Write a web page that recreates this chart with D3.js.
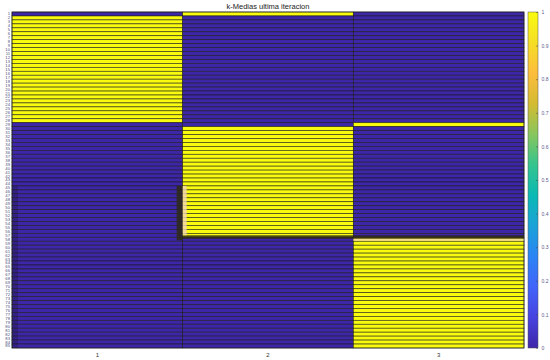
<!DOCTYPE html>
<html>
<head>
<meta charset="utf-8">
<script src="https://cdn.jsdelivr.net/npm/d3@7"></script>
<style>
  body { margin: 0; background: #fff; }
  svg { display: block; }
  text { font-family: "Liberation Sans", Arial, sans-serif; }
</style>
</head>
<body>
<div id="chart"></div>
<script>
// ---- data ----
const title = "k-Medias ultima iteracion";
const columns = ["1", "2", "3"];
const rowLabels = ["1","2","3","4","5","6","7","8","9","10","11","12","13","14","15","16","17","18","19","20",
  "21","22","23","24","25","26","27","28","29","30","31","32","33","34","35","36","37","38","39","40",
  "41","42","43","44","45","46","47","48","49","50","51","52","53","54","55","56","57","58","59","60",
  "61","62","63","64","65","66","67","68","69","70","71","72","73","74","75","76","77","78","79","80",
  "81","82","83","84","85"];
// cluster assigned to each row (1-based column index)
const clusterOfRow = [
  2,
  1,1,1,1,1,1,1,1,1,1,1,1,1,1,1,1,1,1,1,1,1,1,1,1,1,1,1,
  3,
  2,2,2,2,2,2,2,2,2,2,2,2,2,2,2,2,2,2,2,2,2,2,2,2,2,2,2,2,
  3,3,3,3,3,3,3,3,3,3,3,3,3,3,3,3,3,3,3,3,3,3,3,3,3,3,3,3
];
const colorbarTicks = [0, 0.1, 0.2, 0.3, 0.4, 0.5, 0.6, 0.7, 0.8, 0.9, 1];
// parula colormap stops
const parulaStops = ["#3e26a8","#4743e0","#4164fa","#2b84f4","#1ba2d8","#0bb9b4","#34c48e","#88c65c","#d4bb32","#fdbd3c","#f5de26","#f9fb0e"];

// ---- build cells ----
const cells = [];
rowLabels.forEach((r, i) => {
  columns.forEach((c, j) => {
    cells.push({ row: r, col: c, value: clusterOfRow[i] === j + 1 ? 1 : 0 });
  });
});

const W = 550, H = 360;
const plot = { left: 12, right: 524, top: 12, bottom: 348 };

const svg = d3.select("#chart").append("svg").attr("width", W).attr("height", H);

const x = d3.scaleBand().domain(columns).range([plot.left, plot.right]);
const y = d3.scaleBand().domain(rowLabels).range([plot.top, plot.bottom]);
const color = d3.scaleLinear()
  .domain(parulaStops.map((d, i) => i / (parulaStops.length - 1)))
  .range(parulaStops);

// cells
svg.append("g").selectAll("rect").data(cells).join("rect")
  .attr("x", d => x(d.col))
  .attr("y", d => y(d.row))
  .attr("width", x.bandwidth())
  .attr("height", y.bandwidth())
  .attr("fill", d => color(d.value))
  .attr("stroke", "#1a1a1a")
  .attr("stroke-opacity", 0.8)
  .attr("stroke-width", 0.7);

// selection shadow seen in the reference around the 2nd-cluster block
const blockTop = y("45"), blockBottom = y("58");
const shadow = svg.append("g").attr("pointer-events", "none");
shadow.append("rect")
  .attr("x", x("2") - 6).attr("y", blockTop)
  .attr("width", 6).attr("height", blockBottom - blockTop + 3)
  .attr("fill", "#2e2a14").attr("opacity", 0.85);
shadow.append("rect")
  .attr("x", x("2")).attr("y", blockBottom - 2)
  .attr("width", plot.right - x("2")).attr("height", 3.5)
  .attr("fill", "#2e2a14").attr("opacity", 0.85);
shadow.append("rect")
  .attr("x", x("2")).attr("y", blockTop)
  .attr("width", 4).attr("height", blockBottom - blockTop - 2)
  .attr("fill", "#f3d6b4").attr("opacity", 0.8);
shadow.append("rect")
  .attr("x", x("3")).attr("y", blockBottom + 1.5)
  .attr("width", plot.right - x("3")).attr("height", 2)
  .attr("fill", "#f3d6b4").attr("opacity", 0.8);
shadow.append("rect")
  .attr("x", plot.left).attr("y", blockTop)
  .attr("width", 6).attr("height", plot.bottom - blockTop)
  .attr("fill", "#1d1840").attr("opacity", 0.35);

// outer border
svg.append("rect")
  .attr("x", plot.left).attr("y", plot.top)
  .attr("width", plot.right - plot.left).attr("height", plot.bottom - plot.top)
  .attr("fill", "none").attr("stroke", "#262626").attr("stroke-width", 0.6);

// row labels
svg.append("g").selectAll("text").data(rowLabels).join("text")
  .attr("x", plot.left - 2)
  .attr("y", d => y(d) + y.bandwidth() / 2)
  .attr("dy", "0.35em")
  .attr("text-anchor", "end")
  .attr("font-size", 4.2)
  .attr("fill", "#4a4a7a")
  .text(d => d);

// column labels
svg.append("g").selectAll("text").data(columns).join("text")
  .attr("x", d => x(d) + x.bandwidth() / 2)
  .attr("y", plot.bottom + 9)
  .attr("text-anchor", "middle")
  .attr("font-size", 6)
  .attr("fill", "#333")
  .text(d => d);

// title
svg.append("text")
  .attr("x", (plot.left + plot.right) / 2)
  .attr("y", 8.5)
  .attr("text-anchor", "middle")
  .attr("font-size", 7.5)
  .attr("fill", "#222")
  .text(title);

// colorbar
const cb = { x: 528, w: 10, top: 12, bottom: 348 };
const defs = svg.append("defs");
const grad = defs.append("linearGradient").attr("id", "parula")
  .attr("x1", 0).attr("y1", 1).attr("x2", 0).attr("y2", 0);
grad.selectAll("stop").data(parulaStops).join("stop")
  .attr("offset", (d, i) => i / (parulaStops.length - 1))
  .attr("stop-color", d => d);
svg.append("rect")
  .attr("x", cb.x).attr("y", cb.top)
  .attr("width", cb.w).attr("height", cb.bottom - cb.top)
  .attr("fill", "url(#parula)")
  .attr("stroke", "#555").attr("stroke-width", 0.5);

const cy = d3.scaleLinear().domain([0, 1]).range([cb.bottom, cb.top]);
const cbAxis = d3.axisRight(cy).tickValues(colorbarTicks)
  .tickFormat(d => d === 0 ? "0" : d === 1 ? "1" : d3.format(".1f")(d))
  .tickSize(2).tickPadding(1.5);
const ag = svg.append("g").attr("transform", `translate(${cb.x + cb.w},0)`).call(cbAxis);
ag.select(".domain").remove();
ag.selectAll(".tick line").attr("stroke", "#444").attr("stroke-width", 0.5)
  .attr("x1", -2).attr("x2", 0);
ag.selectAll(".tick text").attr("font-size", 5).attr("fill", "#5a5a8a")
  .attr("font-family", "Liberation Sans, Arial, sans-serif");
</script>
</body>
</html>
